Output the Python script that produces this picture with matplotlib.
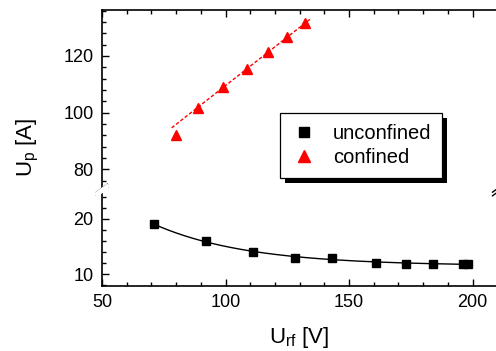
import numpy as np
import matplotlib
matplotlib.use('Agg')
import matplotlib.pyplot as plt
from matplotlib.ticker import MultipleLocator
import matplotlib.patheffects as pe

plt.rcParams['font.family'] = ['Liberation Sans', 'DejaVu Sans']
plt.rcParams['mathtext.default'] = 'regular'

# ---- data ----
unconf_x = [71, 92, 111, 128, 143, 161, 173, 184, 196, 198]
unconf_y = [19.0, 16.0, 14.1, 13.0, 12.95, 12.0, 11.9, 11.9, 11.9, 11.9]
conf_x = [80, 89, 99, 108.8, 117, 125, 132.2]
conf_y = [92.1, 101.8, 109.2, 115.3, 121.5, 126.5, 131.5]
x_ticks = [50, 100, 150, 200]
top_yticks = [80, 100, 120]
bot_yticks = [10, 20]

W, H = 496, 351
fig = plt.figure(figsize=(W / 100, H / 100), dpi=100)
left = 102 / W
right = 498 / W
top = 1 - 10 / H
brk = 1 - 190 / H
bottom = 1 - 285.7 / H
ax_t = fig.add_axes([left, brk, right - left, top - brk])
ax_b = fig.add_axes([left, bottom, right - left, brk - bottom])

for ax in (ax_t, ax_b):
    ax.set_xlim(50, 210.3)
    ax.set_xticks(x_ticks)
    ax.xaxis.set_minor_locator(MultipleLocator(10))
    for s in ax.spines.values():
        s.set_linewidth(1.2)
    ax.tick_params(which='both', direction='in', labelsize=13, width=1.0, pad=6)
    ax.tick_params(which='major', length=5)
    ax.tick_params(which='minor', length=3)

ax_t.set_ylim(72.7, 136.2)
ax_t.set_yticks(top_yticks)
ax_t.yaxis.set_minor_locator(MultipleLocator(4))
ax_t.spines['bottom'].set_visible(False)
ax_t.tick_params(axis='x', which='both', bottom=False, top=True, labelbottom=False)

ax_b.set_ylim(7.94, 25.2)
ax_b.set_yticks(bot_yticks)
ax_b.yaxis.set_minor_locator(MultipleLocator(2))
ax_b.spines['top'].set_visible(False)
ax_b.tick_params(axis='x', which='both', bottom=True, top=False)

# unconfined: exponential decay fit
ux = np.array(unconf_x, float)
uy = np.array(unconf_y, float)
best = None
for t in np.linspace(5, 200, 1951):
    A = np.column_stack([np.ones_like(ux), np.exp(-(ux - ux[0]) / t)])
    coef = np.linalg.lstsq(A, uy, rcond=None)[0]
    r = np.sum((A @ coef - uy) ** 2)
    if best is None or r < best[0]:
        best = (r, t, coef)
_, tb, cb = best
xf = np.linspace(ux.min(), ux.max(), 300)
yf = cb[0] + cb[1] * np.exp(-(xf - ux[0]) / tb)
ax_b.plot(xf, yf, color='black', lw=1.0, zorder=2)
h_u, = ax_b.plot(unconf_x, unconf_y, 's', color='black', ms=5.3, zorder=3)

# confined: linear fit
cx = np.array(conf_x, float)
cy = np.array(conf_y, float)
p = np.polyfit(cx[1:], cy[1:], 1)
xl = np.linspace(78.2, 134.2, 50)
ax_t.plot(xl, np.polyval(p, xl), color='red', lw=1.0, dashes=(2.5, 1.5), zorder=2)
h_c, = ax_t.plot(conf_x, conf_y, '^', color='red', ms=7.2, zorder=3)

leg = ax_t.legend([h_u, h_c], ['unconfined', 'confined'], loc='center',
                  bbox_to_anchor=(361 / W, 1 - 145.5 / H), bbox_transform=fig.transFigure,
                  frameon=True, fancybox=False, edgecolor='black', facecolor='white',
                  framealpha=1.0, fontsize=14.5,
                  markerscale=1.25, handlelength=1.3, handletextpad=0.8,
                  borderpad=0.55, labelspacing=0.25, borderaxespad=0)
fr = leg.get_frame()
fr.set_linewidth(0.9)
fr.set_path_effects([pe.SimplePatchShadow(offset=(3.6, -3.6), shadow_rgbFace='black', alpha=1.0),
                     pe.Normal()])

# break marks
def brk_marks(xpix):
    yb = 190
    for dy in (-1.8, 1.8):
        fig.add_artist(plt.Line2D([(xpix - 5.5) / W, (xpix + 5.5) / W],
                                  [1 - (yb + dy + 4) / H, 1 - (yb + dy - 4) / H],
                                  transform=fig.transFigure, color='black', lw=1.0))

# white gap in spine between marks
fig.add_artist(plt.Polygon([((left * W - 5.5) / W, 1 - (190 + 2.2) / H),
                            ((left * W + 5.5) / W, 1 - (190 - 5.8) / H),
                            ((left * W + 5.5) / W, 1 - (190 - 1.4) / H),
                            ((left * W - 5.5) / W, 1 - (190 + 6.6) / H)],
                           closed=True, transform=fig.transFigure, color='white', zorder=5))
brk_marks(left * W)
brk_marks(right * W)

fig.text(28 / W, 1 - 147 / H, r'$U_p$ [A]', rotation=90, ha='center', va='center', fontsize=16)
fig.text(299 / W, 1 - 338 / H, r'$U_{rf}$ [V]', ha='center', va='center', fontsize=16)

fig.savefig('out.png', dpi=100)
